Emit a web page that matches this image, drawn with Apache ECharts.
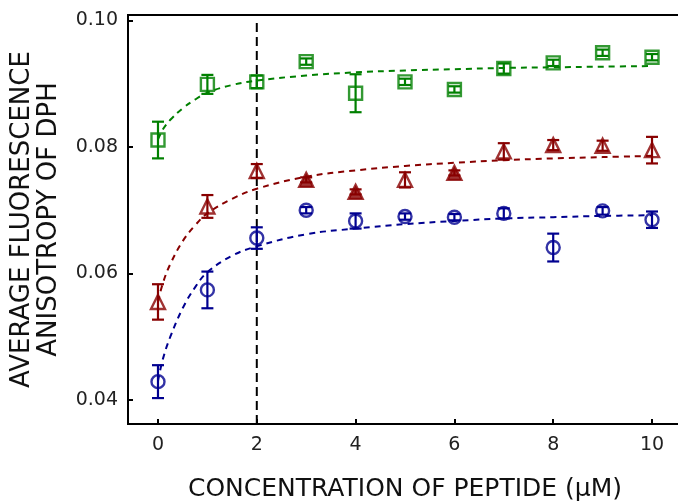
<!DOCTYPE html>
<html>
<head>
<meta charset="utf-8">
<script src="https://cdn.jsdelivr.net/npm/echarts@6.0.0/dist/echarts.min.js"></script>
<style>
  html, body { margin: 0; padding: 0; background: #fff; }
  #chart { width: 678px; height: 502px; }
</style>
</head>
<body>
<div id="chart"></div>
<script>
// peptide concentration (uM)
var conc = [0, 1, 2, 3, 4, 5, 6, 7, 8, 9, 10];

// measured anisotropy, mean and error
var greenMean = [0.0811, 0.0899, 0.0903, 0.0935, 0.0885, 0.0903, 0.0891, 0.0924, 0.0933, 0.0949, 0.0942];
var greenErr  = [0.0029, 0.0015, 0.0010, 0.0005, 0.0030, 0.0005, 0.0005, 0.0008, 0.0005, 0.0005, 0.0005];
var redMean   = [0.0555, 0.0706, 0.0762, 0.0748, 0.0729, 0.0748, 0.0759, 0.0793, 0.0803, 0.0802, 0.0795];
var redErr    = [0.0028, 0.0018, 0.0011, 0.0004, 0.0004, 0.0012, 0.0004, 0.0013, 0.0008, 0.0008, 0.0021];
var blueMean  = [0.0429, 0.0574, 0.0656, 0.0700, 0.0683, 0.0690, 0.0689, 0.0695, 0.0641, 0.0699, 0.0685];
var blueErr   = [0.0026, 0.0029, 0.0017, 0.0005, 0.0012, 0.0005, 0.0005, 0.0008, 0.0022, 0.0006, 0.0013];

// fitted curves
var fitConc  = [0, 0.1, 0.25, 0.5, 0.75, 1, 1.5, 2, 3, 4, 5, 6, 7, 8, 9, 10];
var greenFit = [0.0812, 0.0828, 0.0843, 0.0861, 0.0875, 0.0886, 0.0898, 0.0905, 0.0913, 0.0918, 0.0921, 0.0923, 0.0925, 0.0926, 0.0927, 0.0928];
var redFit   = [0.0555, 0.0585, 0.0615, 0.0651, 0.0676, 0.0695, 0.0718, 0.0734, 0.0753, 0.0763, 0.0770, 0.0775, 0.0779, 0.0782, 0.0784, 0.0786];
var blueFit  = [0.0430, 0.0465, 0.0500, 0.0545, 0.0578, 0.0602, 0.0628, 0.0643, 0.0662, 0.0671, 0.0678, 0.0683, 0.0687, 0.0689, 0.0691, 0.0692];

var xTicks = [0, 2, 4, 6, 8, 10];
var yTicks = [0.04, 0.06, 0.08, 0.10];
var refLineX = 2;
var refLineTop = 0.10;

var xMin = -0.607, xMax = 10.607;
var yMin = 0.0362, yMax = 0.10087;

var GREEN = '#008000', RED = '#880000', BLUE = '#000090';
var FONT = 'DejaVu Sans';

// red triangles that show up solid in the figure
var redSolidAt = [3, 4, 6];

function pairs(xs, ys) {
  return xs.map(function (x, i) { return [x, ys[i]]; });
}

function fitLine(ys, color) {
  return {
    type: 'line',
    data: pairs(fitConc, ys),
    smooth: 0.4,
    symbol: 'none',
    silent: true,
    lineStyle: { color: color, width: 2, type: [6, 5] },
    z: 2
  };
}

function errorBars(means, errs, color) {
  return {
    type: 'custom',
    data: conc.map(function (c, i) { return [c, means[i] - errs[i], means[i] + errs[i]]; }),
    encode: { x: 0, y: [1, 2] },
    renderItem: function (params, api) {
      var x = api.value(0);
      var lo = api.coord([x, api.value(1)]);
      var hi = api.coord([x, api.value(2)]);
      var w = 6;
      var st = { stroke: color, lineWidth: 2.2, fill: null };
      return {
        type: 'group',
        children: [
          { type: 'line', shape: { x1: lo[0], y1: lo[1], x2: hi[0], y2: hi[1] }, style: st },
          { type: 'line', shape: { x1: lo[0] - w, y1: lo[1], x2: lo[0] + w, y2: lo[1] }, style: st },
          { type: 'line', shape: { x1: hi[0] - w, y1: hi[1], x2: hi[0] + w, y2: hi[1] }, style: st }
        ]
      };
    },
    silent: true,
    z: 3
  };
}

function markers(means, symbol, size, color, solidAt) {
  return {
    type: 'scatter',
    data: conc.map(function (c, i) {
      var solid = solidAt && solidAt.indexOf(c) >= 0;
      return {
        value: [c, means[i]],
        itemStyle: { color: solid ? color : 'rgba(0,0,0,0)' }
      };
    }),
    symbol: symbol,
    symbolSize: size,
    itemStyle: { borderColor: color, borderWidth: 2.4 },
    silent: true,
    z: 4
  };
}

var chart = echarts.init(document.getElementById('chart'));

var option = {
  animation: false,
  backgroundColor: '#fff',
  grid: {
    left: 128, right: -4, top: 15, bottom: 78,
    outerBoundsMode: 'none',
    containLabel: false,
    show: true, borderColor: '#000', borderWidth: 2
  },
  xAxis: {
    type: 'value',
    min: xMin, max: xMax,
    name: 'CONCENTRATION OF PEPTIDE (\u03bcM)',
    nameLocation: 'middle',
    nameGap: 53,
    nameTextStyle: { fontFamily: FONT, fontSize: 25, color: '#111' },
    axisLine: { show: true, onZero: false, lineStyle: { color: '#000', width: 2 } },
    axisTick: { show: true, inside: true, length: 5, customValues: xTicks, lineStyle: { color: '#000', width: 2 } },
    axisLabel: { customValues: xTicks, fontFamily: FONT, fontSize: 19, color: '#222', margin: 12 },
    splitLine: { show: false }
  },
  yAxis: {
    type: 'value',
    min: yMin, max: yMax,
    name: 'AVERAGE FLUORESCENCE\nANISOTROPY OF DPH',
    nameLocation: 'middle',
    nameGap: 65,
    nameTextStyle: { fontFamily: FONT, fontSize: 26, lineHeight: 27, color: '#111' },
    axisLine: { show: true, onZero: false, lineStyle: { color: '#000', width: 2 } },
    axisTick: { show: true, inside: true, length: 5, customValues: yTicks, lineStyle: { color: '#000', width: 2 } },
    axisLabel: {
      customValues: yTicks, fontFamily: FONT, fontSize: 19, color: '#222', margin: 10,
      formatter: function (v) { return v.toFixed(2); }
    },
    splitLine: { show: false }
  },
  series: [
    {
      type: 'line',
      data: [[refLineX, yMin], [refLineX, refLineTop]],
      symbol: 'none',
      silent: true,
      lineStyle: { color: '#000', width: 2, type: [9, 5] },
      z: 1
    },
    fitLine(greenFit, GREEN),
    fitLine(redFit, RED),
    fitLine(blueFit, BLUE),
    errorBars(greenMean, greenErr, GREEN),
    errorBars(redMean, redErr, RED),
    errorBars(blueMean, blueErr, BLUE),
    markers(greenMean, 'rect', 13, GREEN),
    markers(redMean, 'triangle', 14, RED, redSolidAt),
    markers(blueMean, 'circle', 13, BLUE)
  ]
};

chart.setOption(option);
</script>
</body>
</html>
